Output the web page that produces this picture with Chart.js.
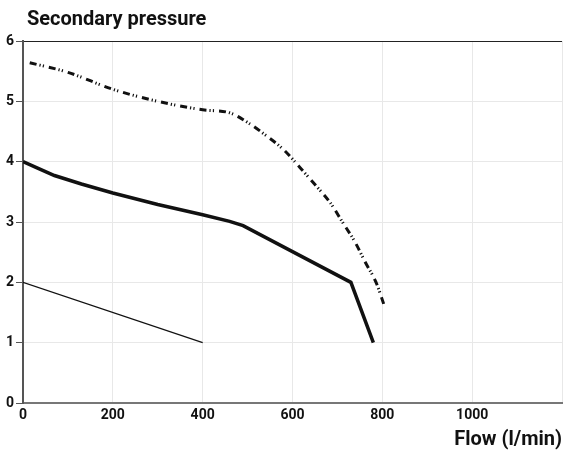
<!DOCTYPE html>
<html>
<head>
<meta charset="utf-8">
<script src="https://cdn.jsdelivr.net/npm/chart.js@4/dist/chart.umd.min.js"></script>
<style>
    html, body { margin: 0; padding: 0; background: #fff; }
    #wrap { width: 566px; height: 454px; }
</style>
</head>
<body>
<div id="wrap"><canvas id="chart"></canvas></div>
<script>
// values
const xTicks = [0, 200, 400, 600, 800, 1000, 1200];
const yTicks = [0, 1, 2, 3, 4, 5, 6];

const upperFlow = [15, 100, 200, 300, 400, 460, 500, 540, 580, 617, 650, 684, 712, 739, 763, 786, 805];
const upperPressure = [5.64, 5.48, 5.2, 5.0, 4.86, 4.81, 4.65, 4.44, 4.2, 3.9, 3.62, 3.32, 2.99, 2.67, 2.32, 2.0, 1.6];

const middleFlow = [0, 30, 70, 130, 200, 300, 400, 460, 490, 730, 780];
const middlePressure = [4.0, 3.9, 3.77, 3.63, 3.48, 3.29, 3.12, 3.01, 2.94, 2.0, 1.0];

const lowerFlow = [0, 400];
const lowerPressure = [2.0, 1.0];

const FONT = "Roboto, 'Liberation Sans', sans-serif";

function pts(xs, ys) {
    return xs.map((x, i) => ({ x: x, y: ys[i] }));
}

// heading sits left of the title plugin's reach, so draw it by hand
const heading = {
    id: 'heading',
    afterDraw(chart) {
        const c = chart.ctx;
        c.save();
        c.fillStyle = '#111';
        c.font = 'bold 20px ' + FONT;
        c.textBaseline = 'alphabetic';
        c.fillText('Secondary pressure', 27, 25);
        c.restore();
    }
};

new Chart(document.getElementById('chart'), {
    type: 'line',
    data: {
        datasets: [
            {
                data: pts(upperFlow, upperPressure),
                borderColor: '#111',
                borderWidth: 3,
                borderDash: [7, 3, 1.2, 2.2, 1.2, 5],
                cubicInterpolationMode: 'monotone',
                pointRadius: 0
            },
            {
                data: pts(middleFlow, middlePressure),
                borderColor: '#111',
                borderWidth: 3.5,
                tension: 0,
                pointRadius: 0
            },
            {
                data: pts(lowerFlow, lowerPressure),
                borderColor: '#111',
                borderWidth: 1.2,
                tension: 0,
                pointRadius: 0
            }
        ]
    },
    plugins: [heading],
    options: {
        responsive: true,
        maintainAspectRatio: false,
        animation: false,
        layout: { padding: { left: 0, right: 0, top: 41, bottom: 0 } },
        plugins: {
            legend: { display: false },
            tooltip: { enabled: false },
            title: { display: false }
        },
        scales: {
            x: {
                type: 'linear',
                min: 0,
                max: 1200,
                afterBuildTicks: s => { s.ticks = xTicks.map(v => ({ value: v })); },
                afterFit: s => { s.height = 51; },
                border: { color: '#777', width: 2 },
                grid: { color: '#e8e8e8', drawTicks: false },
                ticks: {
                    color: '#111',
                    padding: 4,
                    maxRotation: 0,
                    font: { family: FONT, size: 14, weight: 'bold' },
                    callback: v => (v === 1200 ? '' : String(v))
                },
                title: {
                    display: true,
                    text: 'Flow (l/min)',
                    align: 'end',
                    color: '#111',
                    font: { family: FONT, size: 20, weight: 'bold' },
                    padding: { top: 0, bottom: 2 }
                }
            },
            y: {
                type: 'linear',
                min: 0,
                max: 6,
                afterBuildTicks: s => { s.ticks = yTicks.map(v => ({ value: v })); },
                afterFit: s => { s.width = 23; },
                border: { color: '#555', width: 2 },
                grid: {
                    color: c => (c.tick && c.tick.value === 6 ? '#222' : '#e8e8e8'),
                    tickColor: '#555',
                    tickLength: 7
                },
                ticks: {
                    color: '#111',
                    padding: 2,
                    font: { family: FONT, size: 14, weight: 'bold' }
                }
            }
        }
    }
});
</script>
</body>
</html>
